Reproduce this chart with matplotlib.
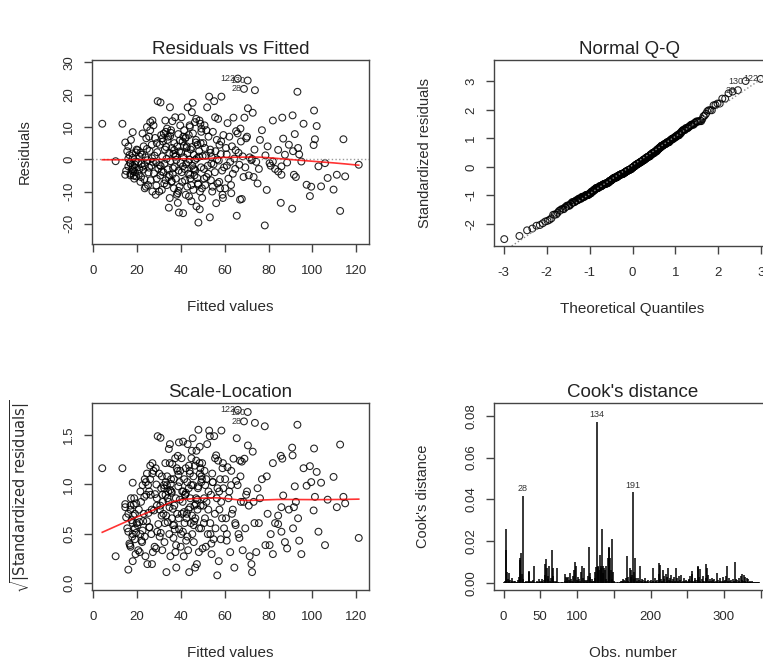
import numpy as np
import matplotlib
matplotlib.use("Agg")
import matplotlib.pyplot as plt
from statistics import NormalDist

plt.rcParams["font.family"] = ["Liberation Sans", "DejaVu Sans"]
plt.rcParams["axes.unicode_minus"] = False

# ---- данные: подогнанные значения и остатки (по группам подогнанных значений) ----
fitted_0_30 = [
    4.1, 10.2,
    13.3, 14.6, 14.6, 16.0, 16.0, 17.0, 17.0, 18.0, 18.0, 18.0, 18.0, 19.0, 19.0, 17.5,
    16.5, 19.5, 15.5, 17.0, 18.5, 19.0, 16.0, 19.8, 17.2, 18.7, 15.0, 19.3, 17.8, 16.8, 18.2, 19.6,
    20.5, 21.0, 21.5, 22.0, 22.5, 23.0, 23.5, 24.0, 24.5, 25.0, 25.5, 26.0, 26.0, 26.5, 27.0, 27.0,
    27.5, 28.0, 28.5, 29.0, 29.4, 29.0, 30.7, 20.8, 21.2, 21.8, 22.3, 22.8, 23.3, 23.8, 24.2, 24.7,
    25.2, 25.7, 26.2, 26.7, 27.2, 27.7, 28.2, 28.7, 29.2, 29.7, 20.2, 21.5, 22.5, 23.5, 24.5, 25.5,
    26.8, 28.8,
]
resid_0_30 = [
    11.0, -0.6,
    11.0, 5.2, -4.8, 4.0, -2.2, -1.1, -5.0, 8.4, -3.0, -2.0, 0.4, -1.6, -4.0, -3.3,
    1.3, 2.1, 2.5, -4.5, -5.1, -2.5, 0.15, 3.0, 6.0, -6.0, -3.6, -0.7, 1.8, -1.2, -3.8, -5.3,
    -0.9, -3.1, 2.0, -1.5, -2.3, 4.0, -1.8, -8.5, 3.2, -8.0, 7.0, 11.5, 9.0, -2.0, 12.0, -10.0,
    10.5, 1.1, -11.0, -6.0, 18.0, 5.0, 17.6, -4.5, 0.8, -5.5, 1.4, -3.2, -6.2, 0.6, 6.5, -0.3,
    -4.1, 2.6, -6.5, 4.5, -0.8, -4.4, 6.6, -1.0, 2.2, -2.9, 2.8, -7.0, 8.0, -9.0, 10.0, -2.6,
    0.3, -8.1,
]
fitted_30_40 = [
    30.1, 30.4, 30.8, 31.0, 31.3, 31.5, 31.8, 32.0, 32.2, 32.5, 32.7, 33.0, 33.1, 33.4, 33.6, 33.9,
    34.0, 34.2, 34.4, 34.7, 34.9, 35.0, 35.2, 35.5, 35.7, 35.9, 36.1, 36.3, 36.6, 36.8, 37.0, 37.2,
    37.4, 37.7, 37.9, 38.1, 38.3, 38.6, 38.8, 39.0, 39.2, 39.4, 39.7, 39.9, 30.6, 31.6, 32.4, 33.3,
    34.5, 35.4, 36.4, 37.5, 38.5, 39.5, 31.2, 33.7, 35.8, 37.8, 39.1, 32.9, 34.8, 36.9, 38.9, 30.3,
    35.1,
]
resid_30_40 = [
    -10.0, 4.5, -2.1, 7.5, -9.5, 0.9, 5.5, -4.0, 8.0, -1.4, 3.0, -6.5, 8.5, 0.1, -8.0, 6.0,
    -3.1, 7.0, -5.5, 2.0, -12.0, 16.1, -0.6, 9.0, -7.0, 3.5, 11.8, -4.6, 1.7, -9.0, 5.0, -2.4,
    13.0, -6.0, -0.2, -11.0, 4.0, -13.5, 7.8, -3.5, 2.4, -8.5, 10.5, -1.1, -5.0, 6.5, -7.5, 3.8,
    -15.0, 8.2, -2.8, 0.8, -10.5, 5.8, -3.8, 9.5, -6.8, 1.2, -16.5, 12.0, -4.8, 2.8, -9.8, -1.8,
    7.2,
]
fitted_40_50 = [
    40.1, 40.3, 40.6, 40.8, 41.0, 41.3, 41.5, 41.7, 42.0, 42.2, 42.4, 42.7, 42.9, 43.1, 43.4, 43.6,
    43.8, 44.1, 44.3, 44.5, 44.8, 45.0, 45.2, 45.5, 45.7, 45.9, 46.2, 46.4, 46.6, 46.9, 47.1, 47.3,
    47.6, 47.8, 48.0, 48.3, 48.5, 48.7, 49.0, 49.2, 49.4, 49.7, 49.9, 40.4, 41.1, 41.9, 42.6, 43.3,
    44.0, 44.7, 45.4, 46.1, 46.8, 47.5, 48.2, 48.9, 49.6, 40.9, 42.3, 43.7, 45.1, 46.5, 47.9, 49.3,
    41.4, 44.2, 47.0, 48.6, 43.0, 45.8,
]
resid_40_50 = [
    2.0, 13.0, -7.0, 5.5, -16.7, 0.6, 9.0, -3.0, 6.5, -11.0, -1.5, 4.0, -8.5, 16.1, -4.5, 7.5,
    -0.1, 10.0, -6.0, 3.0, -13.0, 14.6, -2.0, 8.0, -9.5, 1.4, -5.0, 11.5, -3.5, 6.0, -14.6, 0.3,
    4.5, -7.5, -19.6, 2.5, 12.0, -10.0, 5.0, -2.5, 9.5, -12.0, 1.0, -4.0, 7.0, -6.5, 3.5, -0.9,
    10.5, -8.0, 17.5, -3.2, 5.2, -5.8, 0.8, 11.0, -9.0, -2.2, 6.8, -11.5, 3.8, -0.2, -7.8, 8.5,
    4.2, -4.8, 12.5, -15.5, 1.8, -2.8,
]
fitted_50_70 = [
    50.2, 50.5, 50.8, 51.1, 51.4, 51.7, 52.0, 52.3, 52.6, 52.9, 53.2, 53.4, 53.7, 54.0, 54.3, 54.6,
    54.9, 55.2, 55.5, 55.8, 56.1, 56.4, 56.7, 57.0, 57.3, 57.6, 57.9, 58.2, 58.5, 58.8, 59.0, 59.4,
    59.7, 50.6, 51.6, 52.5, 53.5, 54.5, 55.6, 56.6, 57.5, 58.4, 59.2, 51.0, 53.9,
    60.2, 60.6, 61.0, 61.3, 61.7, 62.1, 62.5, 62.9, 63.3, 63.7, 64.0, 64.4, 64.8, 65.2, 65.5, 65.9,
    66.3, 66.7, 67.0, 67.4, 67.8, 68.2, 68.6, 69.0, 69.4, 69.8, 60.9, 63.0, 65.0, 67.2,
]
resid_50_70 = [
    5.0, -3.0, 10.5, -8.0, 1.1, -5.5, 16.1, -2.0, 7.0, 19.4, -18.0, 3.0, -6.5, 0.7, -10.0, 8.5,
    -1.6, 18.0, -4.0, 2.5, -13.6, 6.0, -7.5, 12.5, -0.4, 4.5, -9.0, 1.6, 19.4, -3.5, -11.0, 7.5,
    -2.5, -6.0, 9.0, -4.5, 2.0, -8.5, 13.0, -0.05, -7.0, 5.5, -12.0, 3.5, -1.3,
    -9.0, 3.5, -2.0, 11.2, -6.0, 7.0, -0.8, -8.0, 4.0, -4.5, 12.9, 0.2, -3.0, 8.7, -17.5, 8.0,
    2.0, -1.7, -12.5, 5.5, -12.3, 0.9, -5.5, 12.9, -2.5, 6.5, 1.5, -10.5, 2.8, 9.5,
]
fitted_70_125 = [
    70.6, 72.8, 71.0, 73.2, 75.0, 76.1, 73.6, 72.2, 71.4, 78.3, 79.2, 77.0, 74.4, 70.2, 72.5, 78.6,
    75.6, 79.6, 73.8,
    82.0, 86.3, 86.7, 84.4, 82.0, 85.9, 84.4, 85.9, 85.6, 81.0, 83.0, 87.5, 88.5, 80.5, 89.3,
    91.0, 90.8, 91.6, 92.5, 93.2, 92.0, 93.5, 91.2, 95.0, 97.4, 98.9, 96.0, 94.0, 99.5,
    100.8, 102.0, 101.2, 100.6, 102.8, 104.0, 107.0, 109.7, 105.8,
    111.2, 112.7, 114.2, 115.0, 121.2,
]
resid_70_125 = [
    15.8, 14.4, -5.0, -5.5, -7.5, 6.0, 3.0, -0.3, 0.6, -20.5, -9.5, 9.0, -0.8, 7.0, 0.1, 1.2,
    -3.0, 4.0, 21.4,
    12.0, 12.9, 6.4, 2.9, -0.7, -2.2, -3.8, -4.8, -13.5, -2.0, -3.0, 1.4, -1.0, -1.2, 4.5,
    13.6, -15.3, -4.8, -5.5, 20.9, 7.8, 3.5, 2.5, -0.7, -7.9, -11.4, 11.0, 1.5, -8.5,
    15.1, 10.3, 6.2, 4.4, -2.2, -8.4, -5.8, -9.4, -1.2,
    -4.8, -16.0, 6.2, -5.3, -1.7,
]
# три подписанных наблюдения
flag_names = ["122", "130", "28"]
flag_fitted = [66.0, 70.5, 68.8]
flag_resid = [25.0, 24.4, 21.8]

# расстояние Кука (в тысячных), по порядку наблюдений
cook_milli = [
    0.4, 1.2, 26.0, 16.0, 5.2, 2.1, 1.0, 4.6, 1.3, 0.6, 2.2, 0.9, 0.3, 0.8, 0.5, 1.1, 0.2, 0.7, 0.4, 1.5, 3.0, 11.0, 12.2, 14.3, 4.1,
    41.8, 2.0, 0.6, 0.4, 0.9, 0.3, 0.7, 1.2, 6.0, 5.3, 1.1, 0.5, 0.3, 0.8, 1.4, 8.0, 0.6, 0.2, 0.4, 1.0, 0.3, 0.5, 1.8, 0.9, 0.3,
    0.6, 1.2, 2.0, 0.4, 1.5, 4.0, 9.2, 11.3, 7.1, 3.2, 1.8, 8.4, 1.0, 0.6, 2.5, 16.0, 3.4, 7.3, 1.2, 0.5, 0.8, 0.3, 7.0, 0.6, 0.2,
    0.4, 0.2, 0.6, 0.3, 0.1, 0.5, 0.2, 4.2, 1.1, 3.0, 0.8, 2.2, 3.1, 1.4, 5.0, 0.9, 2.0, 1.2, 3.3, 0.7, 6.2, 10.1, 8.0, 0.6, 1.5,
    3.0, 0.8, 2.1, 1.1, 5.2, 0.5, 8.1, 2.4, 0.7, 7.2, 1.6, 0.9, 0.4, 1.3, 3.6, 17.1, 5.0, 3.1, 0.8, 2.0, 0.6, 1.2, 0.9, 5.4, 2.2,
    7.5, 77.0, 8.2, 7.8, 6.4, 13.2, 8.0, 7.1, 26.0, 8.3, 4.6, 7.4, 6.2, 8.0, 2.1, 1.0, 11.8, 16.9, 17.4, 12.0, 6.3, 21.0, 2.0, 5.3, 0.8,
    0.3, 0.5, 0.2, 0.4, 0.1, 0.3, 0.2, 0.6, 0.4, 1.2, 0.8, 2.0, 0.6, 1.5, 0.9, 2.2, 0.5, 13.1, 1.2, 2.8, 0.7, 7.0, 3.1, 6.4, 3.8,
    43.5, 5.1, 1.8, 12.0, 2.2, 0.7, 1.0, 2.4, 0.6, 1.3, 8.0, 0.9, 0.4, 2.1, 1.7, 0.5, 2.6, 1.1, 0.3, 0.8, 1.4, 0.6, 0.2, 0.9, 0.4,
    1.6, 0.7, 7.0, 1.2, 0.5, 2.3, 0.8, 0.3, 1.5, 0.6, 4.2, 9.6, 8.8, 2.0, 1.1, 0.7, 6.2, 1.9, 3.3, 0.6, 4.5, 1.0, 2.8, 7.1, 1.4,
    0.8, 2.5, 4.0, 1.2, 0.5, 1.8, 3.0, 0.6, 1.1, 7.0, 2.4, 0.9, 0.4, 3.6, 1.3, 0.7, 4.0, 0.5, 1.0, 2.2, 0.3, 0.8, 1.6, 0.4, 1.2,
    0.6, 2.0, 1.3, 3.5, 0.8, 6.0, 4.1, 1.0, 0.5, 1.7, 2.6, 0.7, 1.4, 7.8, 8.0, 3.0, 1.2, 6.5, 0.6, 2.1, 0.9, 3.4, 1.1, 0.4, 2.5,
    9.0, 7.2, 3.8, 1.0, 0.6, 1.9, 0.8, 2.6, 0.4, 1.3, 0.7, 2.0, 0.5, 1.1, 0.3, 4.8, 1.6, 0.6, 2.4, 0.9, 0.3, 1.2, 0.5, 2.8, 0.8,
    0.4, 1.5, 3.2, 8.0, 1.1, 0.6, 2.3, 0.9, 0.3, 1.4, 0.7, 2.1, 0.5, 1.0, 10.3, 2.0, 0.6, 1.3, 0.4, 2.2, 0.8, 0.3, 3.6, 4.2, 1.5,
    0.9, 3.8, 1.2, 3.0, 0.5, 2.2, 0.7, 1.8, 0.4, 1.1, 0.6, 0.3, 0.8, 0.5, 0.2, 0.6, 0.3, 0.4, 0.2, 0.5, 0.3, 0.2, 0.4, 0.1, 0.2,
]
cook_flag_pos = [26, 127, 176]
cook_flag_names = ["28", "134", "191"]


# lowess как в R (f = 2/3, iter = 3)
def lowess(x, y, f=2 / 3, it=3):
    o = np.argsort(x)
    x, y = x[o], y[o]
    n = len(x)
    r = int(np.ceil(f * n))
    rob = np.ones(n)
    yest = np.zeros(n)
    for _ in range(it + 1):
        for i in range(n):
            d = np.abs(x - x[i])
            h = np.sort(d)[r - 1]
            w = np.clip(d / max(h, 1e-12), 0, 1)
            w = (1 - w ** 3) ** 3 * rob
            sw = w.sum()
            xm = (w * x).sum() / sw
            ym = (w * y).sum() / sw
            sxx = (w * (x - xm) ** 2).sum()
            b = (w * (x - xm) * (y - ym)).sum() / sxx if sxx > 0 else 0
            yest[i] = ym + b * (x[i] - xm)
        res = y - yest
        s = np.median(np.abs(res))
        u = np.clip(res / (6 * s), -1, 1)
        rob = (1 - u ** 2) ** 2
    return x, yest


fitted = np.array(fitted_0_30 + fitted_30_40 + fitted_40_50 + fitted_50_70 + fitted_70_125 + flag_fitted)
resid = np.array(resid_0_30 + resid_30_40 + resid_40_50 + resid_50_70 + resid_70_125 + flag_resid)
n = len(fitted)
flag_idx = np.arange(n - 3, n)
sigma = np.sqrt((resid ** 2).sum() / (n - 2))
std_res = resid / sigma
sqrt_abs = np.sqrt(np.abs(std_res))
cook = np.array(cook_milli) / 1000.0
obs = np.arange(1, len(cook) + 1)

W, H = 763, 664
fig = plt.figure(figsize=(W / 100, H / 100), dpi=100)


def px_axes(l, t, r, b):
    return fig.add_axes([l / W, 1 - b / H, (r - l) / W, (b - t) / H])


ax1 = px_axes(92, 60, 369, 244)
ax2 = px_axes(494, 60, 771, 246)
ax3 = px_axes(92, 403, 369, 590)
ax4 = px_axes(494, 403, 771, 590)

ink = "#2b2b2b"
pt = dict(s=24, facecolors="none", edgecolors="black", linewidths=0.8, alpha=0.85)


def extend(lo, hi, f):
    d = (hi - lo) * f
    return lo - d, hi + d


def style(ax, title, xlabel, ylabel, ylab_dx, w=277, h=184):
    ax.set_title(title, fontsize=13.5, pad=4, color="#222222")
    ax.set_xlabel(xlabel, fontsize=11, color=ink)
    ax.set_ylabel(ylabel, fontsize=10.5, color=ink)
    ax.xaxis.set_label_coords(0.5, -63 / h)
    ax.xaxis.label.set_va("center")
    ax.yaxis.set_label_coords(-ylab_dx / w, 0.5)
    ax.yaxis.label.set_va("center")
    for s in ax.spines.values():
        s.set_color("#444444")
        s.set_linewidth(1.0)
    ax.tick_params(direction="out", length=6, width=1.0, color="#444444",
                   labelsize=9.5, labelcolor=ink, pad=9)
    ax.tick_params(axis="y", pad=6)
    for lab in ax.get_yticklabels():
        lab.set_rotation(90)
        lab.set_va("center")


# 1. Residuals vs Fitted
ax1.scatter(fitted, resid, **pt)
ax1.axhline(0, color="#9a9a9a", linestyle=":", linewidth=1)
lx, ly = lowess(fitted, resid)
ax1.plot(lx, ly, color="red", linewidth=1.2, alpha=0.8)
for i, name in zip(flag_idx, flag_names):
    ax1.text(fitted[i] - 1.2, resid[i], name, fontsize=6.5, ha="right", va="center", color="#333333")
ax1.set_xlim(*extend(fitted.min(), fitted.max(), 0.04))
ax1.set_ylim(*extend(*extend(resid.min(), resid.max(), 0.08), 0.04))
ax1.set_xticks(np.arange(0, 121, 20))
ax1.set_yticks(np.arange(-20, 31, 10))
style(ax1, "Residuals vs Fitted", "Fitted values", "Residuals", 67)

# 2. Normal Q-Q
order = np.argsort(std_res)
nd = NormalDist()
theo = np.array([nd.inv_cdf((k + 0.5) / n) for k in range(n)])
qq_y = std_res[order]
ax2.scatter(theo, qq_y, **pt)
q1, q3 = np.quantile(std_res, [0.25, 0.75])
t1, t3 = nd.inv_cdf(0.25), nd.inv_cdf(0.75)
slope = (q3 - q1) / (t3 - t1)
icpt = q1 - slope * t1
ax2.axline((0, icpt), slope=slope, color="#8a8a8a", linestyle=":", linewidth=1)
rank = np.empty(n, int)
rank[order] = np.arange(n)
for i, name in zip(flag_idx, flag_names):
    ax2.text(theo[rank[i]] - 0.05, std_res[i], name, fontsize=6.5, ha="right", va="center", color="#333333")
ylo, yhi = std_res.min(), std_res.max()
yhi = yhi + (yhi - ylo) * 0.075
ax2.set_xlim(*extend(theo.min(), theo.max(), 0.04))
ax2.set_ylim(*extend(ylo, yhi, 0.04))
ax2.set_xticks(np.arange(-3, 4, 1))
ax2.set_yticks(np.arange(-2, 4, 1))
style(ax2, "Normal Q-Q", "Theoretical Quantiles", "Standardized residuals", 69, h=186)
ax2.title.set_position((0.49, 1))

# 3. Scale-Location
ax3.scatter(fitted, sqrt_abs, **pt)
sx, sy = lowess(fitted, sqrt_abs)
ax3.plot(sx, sy, color="red", linewidth=1.2, alpha=0.8)
for i, name in zip(flag_idx, flag_names):
    ax3.text(fitted[i] - 1.2, sqrt_abs[i], name, fontsize=6.5, ha="right", va="center", color="#333333")
ax3.set_xlim(*extend(fitted.min(), fitted.max(), 0.04))
ax3.set_ylim(*extend(0, sqrt_abs.max(), 0.04))
ax3.set_xticks(np.arange(0, 121, 20))
ax3.set_yticks([0.0, 0.5, 1.0, 1.5])
ax3.set_yticklabels(["0.0", "0.5", "1.0", "1.5"])
style(ax3, "Scale-Location", "Fitted values", r"$\sqrt{|\mathrm{Standardized\ residuals}|}$", 72, h=187)

# 4. Cook's distance
ax4.vlines(obs, 0, cook, color="black", linewidth=1.1)
for p, name in zip(cook_flag_pos, cook_flag_names):
    ax4.text(p, cook[p - 1] + 0.0012, name, fontsize=6.5, ha="center", va="bottom", color="#333333")
ax4.set_xlim(*extend(1, len(cook), 0.04))
ax4.set_ylim(*extend(0, cook.max() * 1.075, 0.04))
ax4.set_xticks(np.arange(0, 351, 50))
ax4.set_xticklabels(["0", "50", "100", "", "200", "", "300", ""])
ax4.set_yticks(np.arange(0, 0.081, 0.02))
ax4.set_yticklabels(["0.00", "0.02", "0.04", "0.06", "0.08"])
style(ax4, "Cook's distance", "Obs. number", "Cook's distance", 71, h=187)

fig.savefig("out.png", dpi=100)
